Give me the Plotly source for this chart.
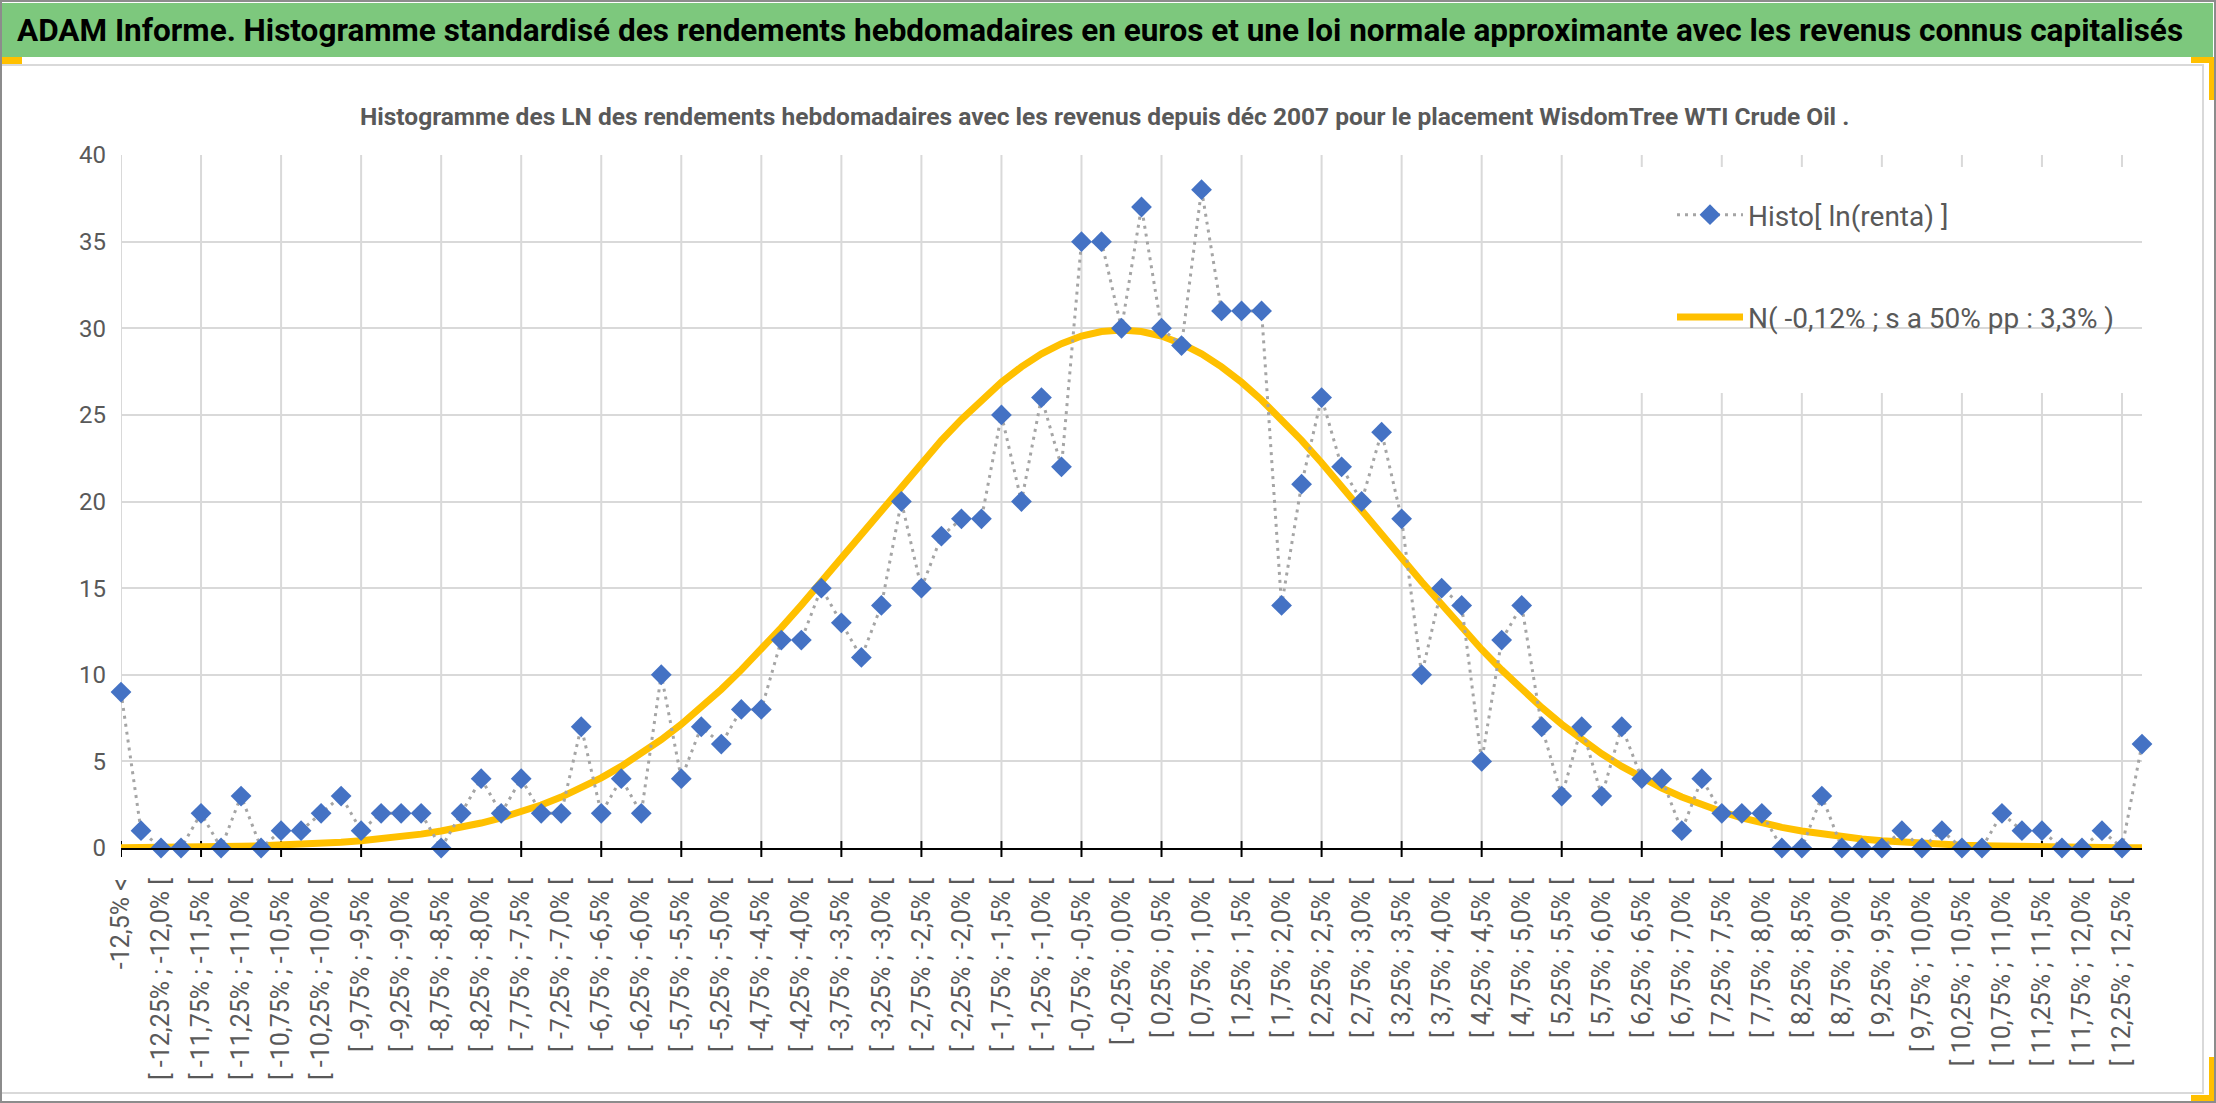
import plotly.graph_objects as go

# effectifs hebdomadaires par classe
histo_counts = [
    9, 1, 0, 0, 2, 0, 3, 0, 1, 1,
    2, 3, 1, 2, 2, 2, 0, 2, 4, 2,
    4, 2, 2, 7, 2, 4, 2, 10, 4, 7,
    6, 8, 8, 12, 12, 15, 13, 11, 14, 20,
    15, 18, 19, 19, 25, 20, 26, 22, 35, 35,
    30, 37, 30, 29, 38, 31, 31, 31, 14, 21,
    26, 22, 20, 24, 19, 10, 15, 14, 5, 12,
    14, 7, 3, 7, 3, 7, 4, 4, 1, 4,
    2, 2, 2, 0, 0, 3, 0, 0, 0, 1,
    0, 1, 0, 0, 2, 1, 1, 0, 0, 1,
    0, 6,
]

# courbe de la loi normale approximante
normal_fit = [
    0.02, 0.02, 0.03, 0.04, 0.06, 0.07, 0.10, 0.13, 0.16, 0.21,
    0.26, 0.33, 0.42, 0.52, 0.65, 0.80, 0.98, 1.19, 1.44, 1.74,
    2.09, 2.48, 2.94, 3.46, 4.05, 4.71, 5.44, 6.25, 7.14, 8.11,
    9.16, 10.28, 11.46, 12.72, 14.02, 15.37, 16.74, 18.14, 19.53, 20.90,
    22.24, 23.53, 24.74, 25.86, 26.88, 27.77, 28.52, 29.11, 29.55, 29.81,
    29.90, 29.81, 29.55, 29.11, 28.52, 27.77, 26.88, 25.86, 24.74, 23.53,
    22.24, 20.90, 19.53, 18.14, 16.74, 15.37, 14.02, 12.72, 11.46, 10.28,
    9.16, 8.11, 7.14, 6.25, 5.44, 4.71, 4.05, 3.46, 2.94, 2.48,
    2.09, 1.74, 1.44, 1.19, 0.98, 0.80, 0.65, 0.52, 0.42, 0.33,
    0.26, 0.21, 0.16, 0.13, 0.10, 0.07, 0.06, 0.04, 0.03, 0.02,
    0.02, 0.01,
]

# bornes des classes en %
first_edge = -12.5
bin_step = 0.25
n_bins = 100


def fmt_pct(v):
    s = "%.2f" % v
    if s.endswith("0"):
        s = s[:-1]
    return s.replace(".", ",") + "%"


categories = [fmt_pct(first_edge) + " <"]
for i in range(n_bins):
    lo = first_edge + i * bin_step
    categories.append("[ %s ; %s [" % (fmt_pct(lo), fmt_pct(lo + bin_step)))
categories.append("> " + fmt_pct(-first_edge))

x_idx = list(range(len(categories)))
label_idx = x_idx[0:101:2]
grid_idx = x_idx[0:101:4]

title_main = ("ADAM Informe. Histogramme standardisé des rendements hebdomadaires en euros "
              "et une loi normale approximante avec les revenus connus capitalisés")
title_sub = ("Histogramme des LN des rendements hebdomadaires avec les revenus depuis déc 2007 "
             "pour le placement WisdomTree WTI Crude Oil .")

FONT = "Roboto, sans-serif"
GRAY_TXT = "#595959"
GRID = "#d9d9d9"

W, H = 2216, 1103
L, R, T, B = 121, 2142, 155, 848


def px(x):
    return (x - L) / (R - L)


def py(y):
    return (B - y) / (B - T)


fig = go.Figure()

fig.add_trace(go.Scatter(
    x=x_idx, y=normal_fit, mode="lines", name="N( -0,12% ; s a 50% pp : 3,3% )",
    line=dict(color="#FFC000", width=7), legendrank=2, legendgroup="n",
))
fig.add_trace(go.Scatter(
    x=x_idx, y=histo_counts, mode="lines+markers", name="Histo[ ln(renta) ]",
    line=dict(color="#A5A5A5", width=3, dash="3px,5px"),
    marker=dict(symbol="diamond", size=16, color="#4472C4"),
    cliponaxis=False, legendrank=1, legendgroup="h",
))

shapes = []
# quadrillage vertical toutes les 4 classes + graduations
for k in grid_idx:
    shapes.append(dict(type="line", xref="x", yref="paper", x0=k, x1=k, y0=0, y1=1,
                       line=dict(color=GRID, width=2), layer="below"))
    shapes.append(dict(type="line", xref="x", yref="paper", x0=k, x1=k,
                       y0=-9 / (B - T), y1=7 / (B - T),
                       line=dict(color="black", width=2), layer="between"))

# fond blanc derriere la legende
shapes.append(dict(type="rect", xref="paper", yref="paper", x0=px(1635), x1=1.0,
                   y0=py(393), y1=py(167), fillcolor="white", line=dict(width=0),
                   layer="between"))

# cadre, bandeau vert et coins
deco = [
    (0, 65, 2203, 1093, None, GRID),
    (0, 3, 2213, 57, "#7dc87d", None),
    (0, 57, 22, 64, "#FFC000", None),
    (2191, 57, 2216, 63, "#FFC000", None),
    (2209, 57, 2216, 100, "#FFC000", None),
    (2209, 1057, 2216, 1101, "#FFC000", None),
    (2191, 1095, 2216, 1101, "#FFC000", None),
    (1, 1, 2215, 1102, None, "#8c8c8c"),
]
for x0, y0, x1, y1, fill, line in deco:
    shapes.append(dict(type="rect", xref="paper", yref="paper",
                       x0=px(x0), x1=px(x1), y0=py(y1), y1=py(y0),
                       fillcolor=fill if fill else "rgba(0,0,0,0)",
                       line=dict(color=line, width=2) if line else dict(width=0),
                       layer="above"))

fig.update_layout(
    width=W, height=H,
    margin=dict(l=L, r=W - R, t=T, b=H - B, pad=0),
    paper_bgcolor="white", plot_bgcolor="white",
    font=dict(family=FONT, color=GRAY_TXT),
    shapes=shapes,
    showlegend=True,
    legend=dict(x=px(1672), y=py(190), xanchor="left", yanchor="top",
                bgcolor="rgba(0,0,0,0)", font=dict(size=28, color=GRAY_TXT, family=FONT),
                itemwidth=66, tracegroupgap=63),
    annotations=[
        dict(text="<b>" + title_main + "</b>", xref="paper", yref="paper",
             x=px(1100), y=py(30), xanchor="center", yanchor="middle", showarrow=False,
             font=dict(size=31.5, color="black", family=FONT)),
        dict(text="<b>" + title_sub + "</b>", xref="paper", yref="paper",
             x=px(1104), y=py(116), xanchor="center", yanchor="middle", showarrow=False,
             font=dict(size=24.5, color=GRAY_TXT, family=FONT)),
    ],
)

fig.update_xaxes(
    range=[0, len(categories) - 1], tickmode="array", tickvals=label_idx,
    ticktext=[categories[i] for i in label_idx], tickangle=-90,
    tickfont=dict(size=25, color=GRAY_TXT), ticks="", ticklabelstandoff=18,
    showgrid=False, zeroline=False, showline=True, linecolor="black", linewidth=2,
)
fig.update_yaxes(
    range=[0, 40], dtick=5, tickfont=dict(size=24, color=GRAY_TXT),
    showgrid=True, gridcolor=GRID, gridwidth=2, zeroline=False, ticks="",
    ticklabelstandoff=14, showline=False,
)

fig.write_html("out.html", config={"displayModeBar": False},
               post_script="document.body.style.margin='0';")
